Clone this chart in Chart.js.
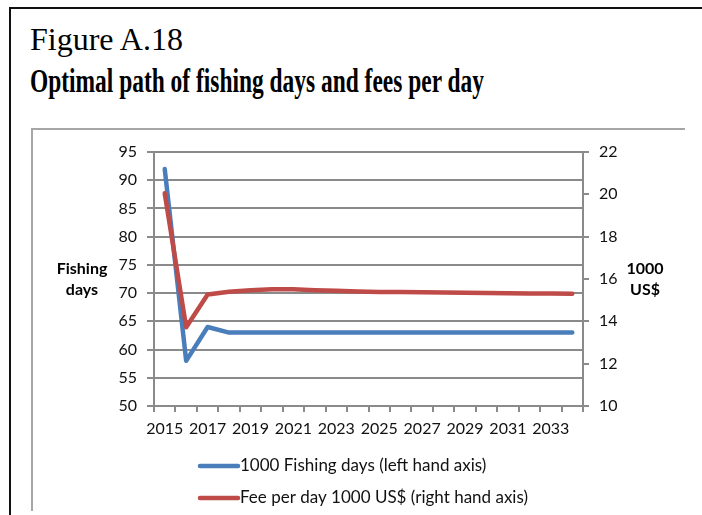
<!DOCTYPE html>
<html>
<head>
<meta charset="utf-8">
<script src="https://cdn.jsdelivr.net/npm/chart.js@4.4.0/dist/chart.umd.min.js"></script>
<style>
  html, body { margin: 0; padding: 0; background: #fff; }
  body { width: 702px; height: 515px; position: relative; overflow: hidden; }
  #frame { position: absolute; left: 9px; top: 7px; right: -5px; bottom: -5px;
           border-left: 2px solid #111; border-top: 2px solid #111; }
  #fig-no { position: absolute; left: 30px; top: 23px; font: 32px/1 "Liberation Serif", serif; color: #000; white-space: nowrap; }
  #fig-title { position: absolute; left: 30px; top: 65px; font: bold 33px/1 "Liberation Serif", serif; color: #000;
               white-space: nowrap; transform-origin: 0 0; transform: scaleX(0.71); }
  #panel { position: absolute; left: 31px; top: 128px; width: 652px; height: 381px;
           border-left: 2px solid #a6a6a6; border-top: 2px solid #a6a6a6; }
  #myChart { position: absolute; left: 33px; top: 130px; }
</style>
</head>
<body>
<div id="frame"></div>
<div id="fig-no">Figure A.18</div>
<div id="fig-title">Optimal path of fishing days and fees per day</div>
<div id="panel"></div>
<canvas id="myChart" width="669" height="385"></canvas>
<script>
var years = ['2015', '2016', '2017', '2018', '2019', '2020', '2021', '2022', '2023', '2024',
             '2025', '2026', '2027', '2028', '2029', '2030', '2031', '2032', '2033', '2034'];
// thousand fishing days (left axis)
var fishingDays = [92, 58, 64, 63, 63, 63, 63, 63, 63, 63,
                   63, 63, 63, 63, 63, 63, 63, 63, 63, 63];
// fee per day, 1000 US$ (right axis)
var feePerDay = [20.05, 13.72, 15.27, 15.40, 15.47, 15.51, 15.51, 15.47, 15.44, 15.41,
                 15.39, 15.38, 15.37, 15.36, 15.35, 15.34, 15.33, 15.32, 15.31, 15.30];
var leftTitle = ['Fishing', 'days'];
var rightTitle = ['1000', 'US$'];
var seriesNames = ['1000 Fishing days (left hand axis)', 'Fee per day 1000 US$ (right hand axis)'];

var gridGrey = '#8a8a8a';
var tickFont = { family: 'Lato', size: 16 };

// axis titles sit upright beside the axes, legend is a left-aligned block under the x axis
var sideText = {
    id: 'sideText',
    afterDraw: function(chart) {
        var ctx = chart.ctx;
        var area = chart.chartArea;
        var sc = chart.scales;
        var midY = (area.top + area.bottom) / 2;
        ctx.save();
        ctx.fillStyle = '#000';
        ctx.textAlign = 'center';
        ctx.textBaseline = 'middle';
        ctx.font = 'bold 16px Lato';
        for (var i = 0; i < leftTitle.length; i++) {
            ctx.fillText(leftTitle[i], sc.y.left + 49, midY - 10 + i * 21);
            ctx.fillText(rightTitle[i], sc.y1.right - 57, midY - 10 + i * 21);
        }
        // legend
        ctx.font = '17px Lato';
        ctx.textAlign = 'left';
        ctx.lineCap = 'round';
        var lx = area.left + 46;
        for (var j = 0; j < chart.data.datasets.length; j++) {
            var ds = chart.data.datasets[j];
            var ly = sc.x.bottom + 20 + j * 32;
            ctx.strokeStyle = ds.borderColor;
            ctx.lineWidth = 4.5;
            ctx.beginPath();
            ctx.moveTo(lx, ly);
            ctx.lineTo(lx + 38, ly);
            ctx.stroke();
            ctx.fillStyle = '#111';
            ctx.fillText(ds.label, lx + 40, ly);
        }
        ctx.restore();
    }
};

var ctx = document.getElementById('myChart').getContext('2d');
var chart = new Chart(ctx, {
    type: 'line',
    data: {
        labels: years,
        datasets: [{
            label: seriesNames[0],
            data: fishingDays,
            yAxisID: 'y',
            borderColor: '#4a7ebb',
            order: 1
        }, {
            label: seriesNames[1],
            data: feePerDay,
            yAxisID: 'y1',
            borderColor: '#be4b48',
            order: 0
        }]
    },
    options: {
        responsive: false,
        animation: false,
        devicePixelRatio: 1,
        layout: { padding: { left: 0, right: 0, top: 22, bottom: 69 } },
        elements: {
            line: { borderWidth: 4.5, tension: 0, borderCapStyle: 'round', borderJoinStyle: 'round', fill: false },
            point: { radius: 0, hoverRadius: 0 }
        },
        plugins: {
            legend: { display: false },
            tooltip: { enabled: false }
        },
        scales: {
            x: {
                offset: true,
                grid: { offset: true, drawOnChartArea: false, tickLength: 6, color: gridGrey, lineWidth: 2 },
                border: { color: gridGrey, width: 2 },
                ticks: {
                    autoSkip: false, maxRotation: 0, padding: 7, color: '#111', font: tickFont,
                    callback: function(v, i) { return i % 2 === 0 ? this.getLabelForValue(v) : ''; }
                },
                afterFit: function(s) { s.height = 40; }
            },
            y: {
                position: 'left',
                min: 50, max: 95,
                ticks: { stepSize: 5, padding: 10, color: '#111', font: tickFont },
                grid: { color: gridGrey, lineWidth: 2, tickLength: 7 },
                border: { color: gridGrey, width: 2 },
                afterFit: function(s) { s.width = 121; }
            },
            y1: {
                position: 'right',
                min: 10, max: 22,
                ticks: { stepSize: 2, padding: 10, color: '#111', font: tickFont },
                grid: { drawOnChartArea: false, color: gridGrey, lineWidth: 2, tickLength: 6 },
                border: { color: gridGrey, width: 2 },
                afterFit: function(s) { s.width = 119; }
            }
        }
    },
    plugins: [sideText]
});
</script>
</body>
</html>
